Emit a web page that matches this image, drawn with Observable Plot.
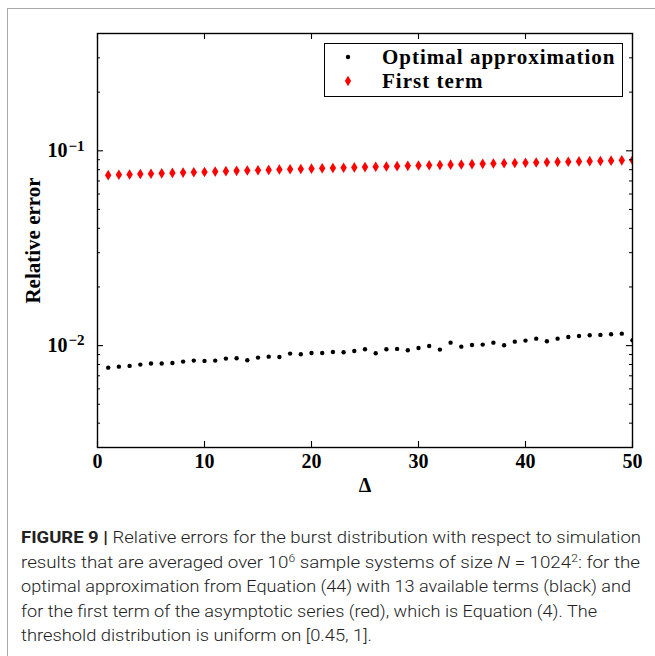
<!DOCTYPE html>
<html>
<head>
<meta charset="utf-8">
<script src="https://cdn.jsdelivr.net/npm/d3@7"></script>
<script src="https://cdn.jsdelivr.net/npm/@observablehq/plot@0.6"></script>
<style>
  html, body { margin: 0; padding: 0; background: #fff; width: 655px; height: 656px; overflow: hidden; position: relative; }
  #border { position: absolute; left: 7px; top: 8px; width: 700px; height: 700px; border-left: 1.5px solid #a8a8a8; border-top: 1.5px solid #a8a8a8; box-sizing: border-box; }
  #chart { position: absolute; left: 0; top: 0; }
  #chart svg text.word { letter-spacing: 1.75px; }
  #legend { position: absolute; left: 324px; top: 43px; width: 299px; height: 54px; border: 1.3px solid #000; box-sizing: border-box; background: #fff;
            font-family: "Liberation Serif", "Times New Roman", serif; font-weight: bold; font-size: 21px; letter-spacing: 1px; color: #000; }
  .lrow { position: absolute; left: 0; height: 24px; line-height: 24px; white-space: nowrap; }
  .lrow svg { position: absolute; left: 18px; top: 0; }
  .lrow span { position: absolute; left: 57px; top: 0; }
  #caption { position: absolute; left: 21px; top: 525px;
             font-family: Roboto, "Liberation Sans", sans-serif; font-weight: 300; font-size: 17px; color: #222; }
  #caption div { white-space: nowrap; height: 24.6px; line-height: 24.6px; transform-origin: 0 0; width: max-content; }
  #caption b { font-weight: 700; }
  #caption sup { font-size: 11px; line-height: 0; vertical-align: 6px; }
</style>
</head>
<body>
<div id="border"></div>
<div id="chart"></div>
<div id="legend"></div>
<div id="caption"></div>
<script>
// ---- data ----
const delta = [1,2,3,4,5,6,7,8,9,10,11,12,13,14,15,16,17,18,19,20,21,22,23,24,25,
               26,27,28,29,30,31,32,33,34,35,36,37,38,39,40,41,42,43,44,45,46,47,48,49,50];
const optimalApprox = [0.00771,0.00780,0.00787,0.00799,0.00809,0.00809,0.00815,0.00828,0.00838,0.00835,
                       0.00838,0.00858,0.00862,0.00842,0.00868,0.00878,0.00875,0.00910,0.00903,0.00917,
                       0.00917,0.00928,0.00925,0.00939,0.00958,0.00914,0.00958,0.00962,0.00947,0.00973,
                       0.00996,0.00954,0.01036,0.00988,0.01008,0.01012,0.01036,0.01005,0.01048,0.01061,
                       0.01086,0.01053,0.01086,0.01108,0.01121,0.01131,0.01135,0.01144,0.01152,0.01066];
const firstTerm = [0.0750,0.0753,0.0756,0.0760,0.0763,0.0766,0.0770,0.0773,0.0776,0.0779,
                   0.0782,0.0786,0.0789,0.0792,0.0795,0.0798,0.0801,0.0804,0.0807,0.0810,
                   0.0813,0.0816,0.0819,0.0822,0.0825,0.0828,0.0831,0.0834,0.0837,0.0840,
                   0.0843,0.0846,0.0849,0.0851,0.0854,0.0857,0.0860,0.0863,0.0866,0.0868,
                   0.0871,0.0874,0.0877,0.0879,0.0882,0.0885,0.0887,0.0890,0.0893,0.0895];
const seriesNames = ["Optimal approximation", "First term"];
const xTicks = [0, 10, 20, 30, 40, 50];
const yMajorTicks = [0.01, 0.1];
const yMajorExponents = ["\u22122", "\u22121"];
const yMinorTicks = [0.003,0.004,0.005,0.006,0.007,0.008,0.009,0.02,0.03,0.04,0.05,0.06,0.07,0.08,0.09,0.2,0.3,0.4];
const xLabel = "\u0394";
const yLabel = "Relative error";
const yDomain = [0.003, 0.4];
const xDomain = [0, 50];
const captionLines = [
  '<b>FIGURE 9 |</b> Relative errors for the burst distribution with respect to simulation',
  'results that are averaged over 10<sup>6</sup> sample systems of size <i>N</i> = 1024<sup>2</sup>: for the',
  'optimal approximation from Equation (44) with 13 available terms (black) and',
  'for the first term of the asymptotic series (red), which is Equation (4). The',
  'threshold distribution is uniform on [0.45, 1].'
];
const captionLineWidths = [620, 619, 610, 576, 351];

// ---- table ----
const table = delta.map((d, i) => ({delta: d, optimal: optimalApprox[i], first: firstTerm[i]}));

// layout
const W = 655, H = 500, ML = 97, MR = 23, MT = 33, MB = 53;
const frameW = W - ML - MR, frameH = H - MT - MB;
const majorLen = 6, minorLen = 3;

// thin diamond symbol
const thinDiamond = {
  draw(ctx) {
    ctx.moveTo(0, -5.3); ctx.lineTo(3.2, 0); ctx.lineTo(0, 5.3); ctx.lineTo(-3.2, 0); ctx.closePath();
  }
};

const chart = Plot.plot({
  width: W,
  height: H,
  marginLeft: ML,
  marginRight: MR,
  marginTop: MT,
  marginBottom: MB,
  style: {fontFamily: '"Liberation Serif", "Times New Roman", serif', fontWeight: "bold", fontSize: "20px", color: "#000", background: "transparent", overflow: "visible"},
  x: {domain: xDomain, axis: null},
  y: {type: "log", domain: yDomain, axis: null},
  marks: [
    Plot.dot(table, {x: "delta", y: "first", symbol: thinDiamond, fill: "#ff0000", stroke: "none", clip: true}),
    Plot.dot(table, {x: "delta", y: "optimal", r: 2.2, fill: "#000", stroke: "none", clip: true}),
    // inward ticks, all four sides
    Plot.tickX(xTicks, {x: d => d, insetTop: frameH - majorLen, stroke: "#000", strokeWidth: 1.1}),
    Plot.tickX(xTicks, {x: d => d, insetBottom: frameH - majorLen, stroke: "#000", strokeWidth: 1.1}),
    Plot.tickY(yMajorTicks, {y: d => d, insetRight: frameW - majorLen, stroke: "#000", strokeWidth: 1.1}),
    Plot.tickY(yMajorTicks, {y: d => d, insetLeft: frameW - majorLen, stroke: "#000", strokeWidth: 1.1}),
    Plot.tickY(yMinorTicks, {y: d => d, insetRight: frameW - minorLen, stroke: "#000", strokeWidth: 1}),
    Plot.tickY(yMinorTicks, {y: d => d, insetLeft: frameW - minorLen, stroke: "#000", strokeWidth: 1}),
    Plot.frame({stroke: "#000", strokeWidth: 1.4}),
    // tick labels
    Plot.text(xTicks, {x: d => d, frameAnchor: "bottom", dy: 14, lineAnchor: "middle", textAnchor: "middle", text: d => String(d), fontSize: 20}),
    Plot.text(yMajorTicks, {y: d => d, frameAnchor: "left", dx: -30, lineAnchor: "middle", textAnchor: "end", text: () => "10", fontSize: 20}),
    Plot.text(yMajorTicks, {y: d => d, frameAnchor: "left", dx: -29, dy: -5, lineAnchor: "middle", textAnchor: "start", text: (d, i) => yMajorExponents[i], fontSize: 15}),
    // axis labels
    Plot.text([yLabel], {frameAnchor: "left", dx: -64, rotate: -90, lineAnchor: "middle", textAnchor: "middle", text: d => d, fontSize: 21, className: "word"}),
    Plot.text([xLabel], {frameAnchor: "bottom", dy: 38, lineAnchor: "middle", textAnchor: "middle", text: d => d, fontSize: 20})
  ]
});
document.getElementById("chart").appendChild(chart);

// ---- legend ----
const legend = document.getElementById("legend");
const legendMarkers = [
  '<svg width="10" height="24"><circle cx="5" cy="12" r="2.2" fill="#000"/></svg>',
  '<svg width="10" height="24"><path d="M5,6.8L8.1,12L5,17.2L1.9,12Z" fill="#ff0000"/></svg>'
];
const legendTops = [1, 25];
seriesNames.forEach((name, i) => {
  const row = document.createElement("div");
  row.className = "lrow";
  row.style.top = legendTops[i] + "px";
  row.innerHTML = legendMarkers[i] + "<span>" + name + "</span>";
  legend.appendChild(row);
});

// ---- caption ----
const cap = document.getElementById("caption");
captionLines.forEach((l, i) => {
  const div = document.createElement("div");
  div.innerHTML = l;
  cap.appendChild(div);
  const w = div.getBoundingClientRect().width;
  div.style.transform = "scaleX(" + (captionLineWidths[i] / w) + ")";
});
</script>
</body>
</html>
